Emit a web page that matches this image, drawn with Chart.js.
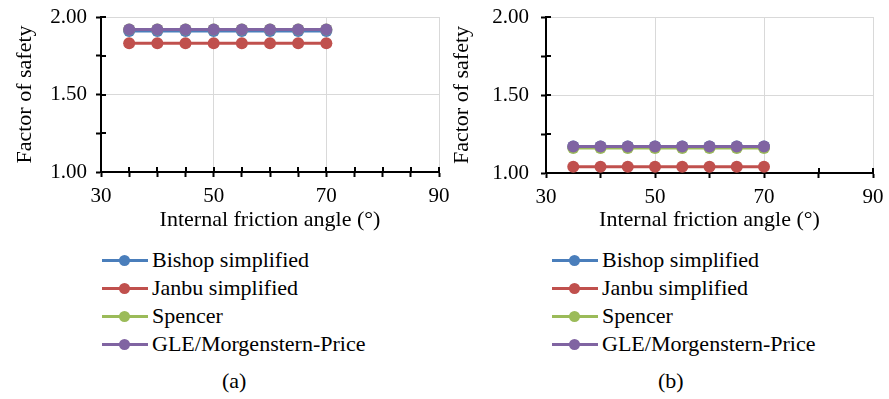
<!DOCTYPE html>
<html>
<head>
<meta charset="utf-8">
<script src="https://cdn.jsdelivr.net/npm/chart.js@4.4.1/dist/chart.umd.min.js"></script>
<style>
  html, body { margin: 0; padding: 0; background: #ffffff; }
  body { width: 889px; height: 399px; position: relative; overflow: hidden; }
  canvas { position: absolute; top: 0; }
  .legend { position: absolute; top: 246px; font-size: 22px; color: #000; }
  .item { height: 28px; display: flex; align-items: center; white-space: nowrap; }
  .mark { position: relative; width: 46px; height: 3px; margin-right: 4px; }
  .mark .dot { position: absolute; left: 17px; top: -4px; width: 11px; height: 11px; border-radius: 50%; }
  .cap { position: absolute; top: 368px; font-size: 22px; }
</style>
</head>
<body style="font-family:'Liberation Serif', serif">
<canvas id="cA" width="450" height="235" style="left:0px"></canvas>
<canvas id="cB" width="445" height="235" style="left:444px"></canvas>
<div class="legend" id="legA" style="left:102px; font-family:'Liberation Serif', serif"></div>
<div class="legend" id="legB" style="left:552px; font-family:'Liberation Serif', serif"></div>
<div class="cap" id="capA" style="left:222px; font-family:'Liberation Serif', serif">(a)</div>
<div class="cap" id="capB" style="left:658px; font-family:'Liberation Serif', serif">(b)</div>
<script>
// ---- data ----
const angles = [35, 40, 45, 50, 55, 60, 65, 70];
const seriesNames = ["Bishop simplified", "Janbu simplified", "Spencer", "GLE/Morgenstern-Price"];
const seriesColors = ["#4A7EBB", "#C0504D", "#9BBB59", "#8064A2"];

const bishopA  = [1.91, 1.91, 1.91, 1.91, 1.91, 1.91, 1.91, 1.91];
const janbuA   = [1.83, 1.83, 1.83, 1.83, 1.83, 1.83, 1.83, 1.83];
const spencerA = [1.92, 1.92, 1.92, 1.92, 1.92, 1.92, 1.92, 1.92];
const gleA     = [1.92, 1.92, 1.92, 1.92, 1.92, 1.92, 1.92, 1.92];

const bishopB  = [1.17, 1.17, 1.17, 1.17, 1.17, 1.17, 1.17, 1.17];
const janbuB   = [1.04, 1.04, 1.04, 1.04, 1.04, 1.04, 1.04, 1.04];
const spencerB = [1.16, 1.16, 1.16, 1.16, 1.16, 1.16, 1.16, 1.16];
const gleB     = [1.17, 1.17, 1.17, 1.17, 1.17, 1.17, 1.17, 1.17];

const xTickLabels = [30, 50, 70, 90];
const yTickLabels = [1.00, 1.50, 2.00];
const xTitle = "Internal friction angle (°)";
const yTitle = "Factor of safety";

// ---- helpers ----
const FONT = "'Liberation Serif', serif";
Chart.defaults.font.family = FONT;
Chart.defaults.color = '#000';

const crossTicks = {
  id: 'crossTicks',
  beforeDatasetsDraw(chart) {
    const ctx = chart.ctx;
    const xs = chart.scales.x, ys = chart.scales.y;
    const a = chart.chartArea;
    ctx.save();
    ctx.strokeStyle = '#000';
    ctx.lineWidth = 2;
    ctx.beginPath();
    xs.ticks.forEach(t => {
      const px = Math.round(xs.getPixelForValue(t.value));
      ctx.moveTo(px, a.bottom);
      ctx.lineTo(px, a.bottom - 5);
    });
    ys.ticks.forEach(t => {
      const py = Math.round(ys.getPixelForValue(t.value));
      ctx.moveTo(a.left, py);
      ctx.lineTo(a.left + 5, py);
    });
    ctx.stroke();
    ctx.restore();
  }
};

function makeDatasets(vals) {
  return vals.map((v, i) => ({
    label: seriesNames[i],
    data: angles.map((x, k) => ({ x: x, y: v[k] })),
    borderColor: seriesColors[i],
    backgroundColor: seriesColors[i],
    pointBackgroundColor: seriesColors[i],
    pointBorderColor: seriesColors[i],
    borderWidth: 3,
    pointRadius: 6,
    pointBorderWidth: 0,
    tension: 0,
    order: vals.length - i
  }));
}

function makeChart(id, vals, opt) {
  return new Chart(document.getElementById(id), {
    type: 'line',
    data: { datasets: makeDatasets(vals) },
    plugins: [crossTicks],
    options: {
      responsive: false,
      devicePixelRatio: 1,
      animation: false,
      events: [],
      layout: { padding: { left: 0, right: opt.padRight, top: 17, bottom: 0 } },
      plugins: { legend: { display: false }, tooltip: { enabled: false } },
      scales: {
        x: {
          type: 'linear',
          min: 30, max: 90,
          afterFit: s => { s.height = opt.xHeight; s.paddingLeft = 0; s.paddingRight = 0; },
          ticks: {
            stepSize: opt.xStep,
            autoSkip: false,
            maxRotation: 0,
            padding: 7,
            color: '#000',
            font: { family: FONT, size: 21 },
            callback: v => xTickLabels.includes(v) ? String(v) : ''
          },
          grid: {
            drawTicks: true,
            tickLength: 5,
            tickWidth: 2,
            tickColor: '#000',
            lineWidth: 1,
            color: c => (c.tick && xTickLabels.includes(c.tick.value) && c.tick.value !== 30) ? '#D9D9D9' : 'rgba(0,0,0,0)'
          },
          border: { display: true, color: '#000', width: 2 },
          title: { display: true, text: xTitle, color: '#000', font: { family: FONT, size: 22 }, padding: { top: 0, bottom: 2 } }
        },
        y: {
          type: 'linear',
          min: 1, max: 2,
          afterFit: s => { s.width = opt.yWidth; s.paddingTop = 0; s.paddingBottom = 0; },
          ticks: {
            stepSize: 0.25,
            autoSkip: false,
            padding: opt.yLabelPad,
            color: '#000',
            font: { family: FONT, size: 21 },
            callback: v => yTickLabels.some(t => Math.abs(t - v) < 1e-9) ? v.toFixed(2) : ''
          },
          grid: {
            drawTicks: true,
            tickLength: 5,
            tickWidth: 2,
            tickColor: '#000',
            lineWidth: 1,
            color: c => (c.tick && Math.abs(c.tick.value * 2 - Math.round(c.tick.value * 2)) < 1e-9 && c.tick.value > 1) ? '#D9D9D9' : 'rgba(0,0,0,0)'
          },
          border: { display: true, color: '#000', width: 2 },
          title: { display: true, text: yTitle, color: '#000', font: { family: FONT, size: 22 }, padding: { top: opt.yTitlePad, bottom: 0 } }
        }
      }
    }
  });
}

function buildLegend(id) {
  const el = document.getElementById(id);
  seriesNames.forEach((name, i) => {
    const item = document.createElement('div');
    item.className = 'item';
    const mark = document.createElement('span');
    mark.className = 'mark';
    mark.style.background = seriesColors[i];
    const dot = document.createElement('span');
    dot.className = 'dot';
    dot.style.background = seriesColors[i];
    mark.appendChild(dot);
    const txt = document.createElement('span');
    txt.textContent = name;
    item.appendChild(mark);
    item.appendChild(txt);
    el.appendChild(item);
  });
}
buildLegend('legA');
buildLegend('legB');

function drawAll() {
  makeChart('cA', [bishopA, janbuA, spencerA, gleA], { padRight: 11, xHeight: 63, yWidth: 101, xStep: 5, yLabelPad: 9, yTitlePad: 12 });
  makeChart('cB', [bishopB, janbuB, spencerB, gleB], { padRight: 16, xHeight: 62, yWidth: 102, xStep: 10, yLabelPad: 12, yTitlePad: 5 });
}
if (document.fonts && document.fonts.load) {
  Promise.all([
    document.fonts.load("21px 'Liberation Serif'"),
    document.fonts.load("22px 'Liberation Serif'")
  ]).then(drawAll, drawAll);
} else {
  drawAll();
}
</script>
</body>
</html>
